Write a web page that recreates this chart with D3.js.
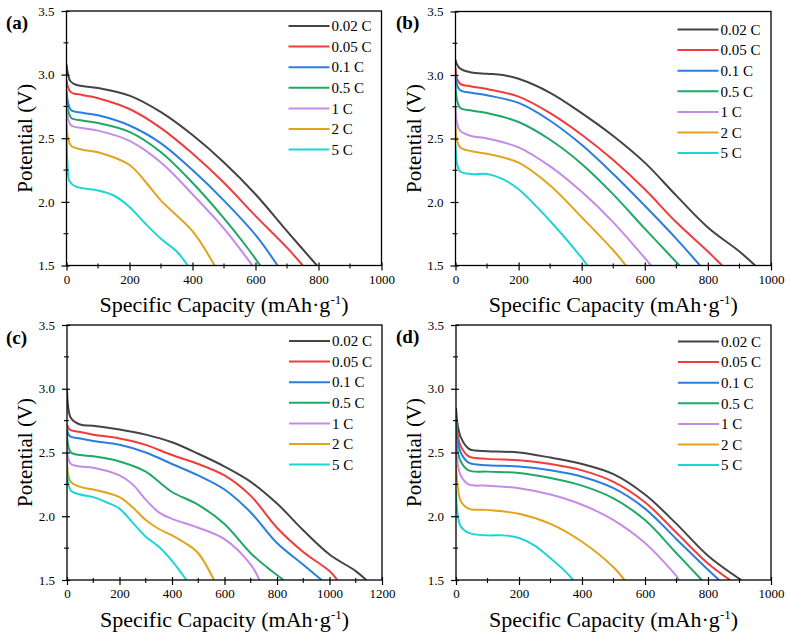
<!DOCTYPE html>
<html><head><meta charset="utf-8">
<script src="https://cdn.jsdelivr.net/npm/d3@7"></script>
<style>
body{margin:0;background:#fff}
svg{display:block}
text{font-family:"Liberation Serif","Times New Roman",Times,serif;fill:#000}
</style>
</head><body><svg id="chart" width="793" height="635"></svg>
<script>
const rates = ["0.02 C","0.05 C","0.1 C","0.5 C","1 C","2 C","5 C"];
const colors = ["#444444","#f03c3c","#2a7de1","#1fa866","#c58be8","#e3a41c","#1cd6d6"];
const yTicks = [1.5,2.0,2.5,3.0,3.5];
const xTicks1000 = [0,200,400,600,800,1000];
const xTicks1200 = [0,200,400,600,800,1000,1200];
const panelLabels = ["(a)","(b)","(c)","(d)"];

const dataA = [
 [[0,3.08],[5,3.0],[12,2.95],[30,2.92],[100,2.895],[200,2.835],[300,2.705],[400,2.525],[500,2.31],[600,2.06],[700,1.77],[795,1.5]],
 [[0,2.96],[5,2.9],[15,2.86],[50,2.84],[100,2.815],[200,2.73],[300,2.58],[400,2.38],[500,2.15],[600,1.89],[700,1.64],[750,1.5]],
 [[0,2.88],[5,2.78],[15,2.72],[50,2.70],[100,2.68],[200,2.60],[300,2.46],[400,2.25],[500,2.01],[600,1.74],[670,1.5]],
 [[0,2.82],[5,2.72],[15,2.66],[50,2.64],[100,2.62],[200,2.55],[300,2.39],[400,2.15],[500,1.87],[580,1.62],[615,1.5]],
 [[0,2.76],[5,2.65],[15,2.60],[50,2.58],[100,2.56],[200,2.48],[300,2.31],[400,2.06],[500,1.79],[590,1.5]],
 [[0,2.62],[5,2.50],[15,2.44],[50,2.41],[100,2.39],[200,2.29],[250,2.16],[300,2.01],[400,1.77],[470,1.5]],
 [[0,2.6],[3,2.3],[10,2.16],[30,2.12],[100,2.09],[150,2.05],[200,1.96],[250,1.83],[300,1.71],[350,1.61],[385,1.5]]
];
const dataB = [
 [[0,3.12],[5,3.08],[15,3.05],[50,3.02],[100,3.01],[150,3.0],[200,2.97],[300,2.86],[400,2.70],[500,2.52],[600,2.31],[700,2.05],[800,1.80],[900,1.61],[950,1.5]],
 [[0,3.06],[5,2.97],[15,2.93],[50,2.91],[100,2.89],[200,2.83],[300,2.70],[400,2.53],[500,2.33],[600,2.10],[700,1.84],[800,1.61],[845,1.5]],
 [[0,3.0],[5,2.92],[15,2.88],[50,2.86],[100,2.84],[200,2.78],[300,2.64],[400,2.45],[500,2.22],[600,1.97],[700,1.71],[775,1.5]],
 [[0,2.92],[5,2.80],[15,2.74],[50,2.72],[100,2.70],[200,2.63],[300,2.49],[400,2.30],[500,2.06],[600,1.79],[710,1.5]],
 [[0,2.75],[5,2.62],[15,2.56],[50,2.52],[100,2.50],[200,2.43],[300,2.28],[400,2.08],[500,1.84],[620,1.5]],
 [[0,2.6],[5,2.48],[15,2.43],[50,2.40],[100,2.38],[200,2.31],[300,2.13],[400,1.88],[500,1.62],[540,1.5]],
 [[0,2.45],[5,2.30],[15,2.24],[50,2.22],[100,2.22],[150,2.18],[200,2.10],[300,1.85],[400,1.56],[418,1.5]]
];
const dataC = [
 [[0,3.0],[5,2.85],[15,2.77],[50,2.72],[100,2.71],[200,2.68],[300,2.64],[400,2.58],[500,2.49],[600,2.39],[700,2.27],[800,2.10],[900,1.89],[1000,1.70],[1100,1.57],[1140,1.5]],
 [[0,2.72],[10,2.68],[50,2.66],[100,2.64],[200,2.61],[300,2.56],[400,2.48],[500,2.41],[600,2.32],[700,2.16],[800,1.91],[900,1.72],[1000,1.57],[1030,1.5]],
 [[0,2.68],[10,2.63],[50,2.61],[100,2.59],[200,2.56],[300,2.50],[400,2.41],[500,2.32],[600,2.21],[700,2.03],[800,1.79],[900,1.62],[970,1.5]],
 [[0,2.65],[5,2.55],[15,2.50],[50,2.48],[100,2.47],[200,2.43],[300,2.35],[350,2.27],[400,2.19],[500,2.09],[600,1.94],[700,1.71],[780,1.57],[825,1.5]],
 [[0,2.55],[5,2.45],[15,2.41],[50,2.39],[100,2.38],[200,2.32],[250,2.25],[300,2.13],[350,2.03],[400,1.98],[500,1.91],[600,1.82],[700,1.62],[733,1.5]],
 [[0,2.45],[5,2.32],[15,2.27],[50,2.23],[100,2.21],[200,2.15],[250,2.07],[300,1.97],[350,1.90],[400,1.85],[450,1.79],[500,1.71],[560,1.5]],
 [[0,2.4],[5,2.26],[15,2.20],[50,2.17],[100,2.15],[150,2.11],[200,2.06],[250,1.95],[300,1.84],[350,1.76],[400,1.65],[455,1.5]]
];
const dataD = [
 [[0,2.85],[5,2.72],[15,2.62],[40,2.53],[60,2.515],[100,2.51],[200,2.50],[300,2.46],[400,2.41],[500,2.33],[600,2.17],[700,1.94],[800,1.69],[905,1.5]],
 [[0,2.8],[5,2.64],[15,2.55],[40,2.47],[100,2.45],[200,2.44],[300,2.41],[400,2.36],[500,2.27],[600,2.11],[700,1.87],[800,1.63],[870,1.5]],
 [[0,2.78],[5,2.60],[15,2.50],[40,2.42],[100,2.40],[200,2.39],[300,2.36],[400,2.31],[500,2.22],[600,2.06],[700,1.82],[800,1.58],[835,1.5]],
 [[0,2.75],[5,2.52],[15,2.43],[40,2.36],[100,2.35],[200,2.34],[300,2.30],[400,2.24],[500,2.14],[600,1.97],[700,1.71],[780,1.5]],
 [[0,2.6],[5,2.42],[15,2.32],[40,2.25],[100,2.24],[200,2.22],[300,2.17],[400,2.09],[500,1.97],[600,1.79],[700,1.53],[708,1.5]],
 [[0,2.4],[5,2.25],[15,2.12],[40,2.06],[100,2.05],[200,2.02],[300,1.94],[400,1.80],[500,1.60],[535,1.5]],
 [[0,2.2],[5,2.02],[15,1.92],[40,1.87],[100,1.85],[150,1.85],[200,1.83],[250,1.77],[300,1.67],[350,1.56],[372,1.5]]
];

const svg = d3.select("#chart");
const panels = [
 {data:dataA, xTicks:xTicks1000, box:[66.5,11,381.5,265.5], lab:[6,29], legTop:15},
 {data:dataB, xTicks:xTicks1000, box:[455.5,11.5,771,265.5], lab:[396,29], legTop:18},
 {data:dataC, xTicks:xTicks1200, box:[67,325,382,580], lab:[6,344], legTop:16},
 {data:dataD, xTicks:xTicks1000, box:[456,325,771,580], lab:[396,343], legTop:16.5}
];
const serif = "Liberation Serif, Times New Roman, serif";

panels.forEach((p, pi) => {
  const [l,t,r,b] = p.box;
  const xMax = p.xTicks[p.xTicks.length-1];
  const x = d3.scaleLinear().domain([0,xMax]).range([l,r]);
  const y = d3.scaleLinear().domain([1.5,3.5]).range([b,t]);
  const g = svg.append("g");

  const clipId = "clip"+pi;
  g.append("clipPath").attr("id",clipId).append("rect")
    .attr("x",l).attr("y",t).attr("width",r-l).attr("height",b-t);

  const line = d3.line().x(d=>x(d[0])).y(d=>y(d[1])).curve(d3.curveCatmullRom.alpha(0.5));
  g.append("g").attr("clip-path",`url(#${clipId})`)
    .selectAll("path").data(p.data).join("path")
    .attr("d",line).attr("fill","none")
    .attr("stroke",(d,i)=>colors[i]).attr("stroke-width",2)
    .attr("stroke-linejoin","round");

  const xMinor = d3.range(0,xMax,100).filter(v=>v%200!==0);
  const yMinor = [1.75,2.25,2.75,3.25];

  const xAxis = d3.axisBottom(x).tickValues(p.xTicks).tickFormat(d3.format("d")).tickSizeInner(5).tickSizeOuter(0).tickPadding(4);
  const gx = g.append("g").attr("transform",`translate(0,${b})`).call(xAxis);
  gx.attr("font-family",serif);
  gx.select(".domain").remove();
  gx.selectAll(".tick line").attr("y1",-3).attr("stroke","#000").attr("stroke-width",1.2);
  gx.selectAll(".tick text").attr("font-size",13).attr("fill","#000");
  g.append("g").selectAll("line").data(xMinor).join("line")
    .attr("x1",d=>x(d)).attr("x2",d=>x(d)).attr("y1",b-2).attr("y2",b+3)
    .attr("stroke","#000").attr("stroke-width",1.1);

  const yAxis = d3.axisLeft(y).tickValues(yTicks).tickFormat(d3.format(".1f")).tickSizeInner(5).tickSizeOuter(0).tickPadding(7);
  const gy = g.append("g").attr("transform",`translate(${l},0)`).call(yAxis);
  gy.attr("font-family",serif);
  gy.select(".domain").remove();
  gy.selectAll(".tick line").attr("x1",3).attr("stroke","#000").attr("stroke-width",1.2);
  gy.selectAll(".tick text").attr("font-size",13).attr("fill","#000");
  g.append("g").selectAll("line").data(yMinor).join("line")
    .attr("x1",l-3).attr("x2",l+2).attr("y1",d=>y(d)).attr("y2",d=>y(d))
    .attr("stroke","#000").attr("stroke-width",1.1);

  g.append("rect").attr("x",l).attr("y",t).attr("width",r-l).attr("height",b-t)
    .attr("fill","none").attr("stroke","#000").attr("stroke-width",1.3);

  const xt = g.append("text").attr("x",(l+r)/2).attr("y",b+46.5)
    .attr("text-anchor","middle").attr("font-size",22);
  xt.append("tspan").text("Specific Capacity (mAh·g");
  xt.append("tspan").attr("font-size",13).attr("dy",-8).text("-1");
  xt.append("tspan").attr("dy",8).text(")");

  g.append("text").attr("transform",`translate(${l-35},${(t+b)/2}) rotate(-90)`)
    .attr("text-anchor","middle").attr("font-size",21).text("Potential (V)");

  g.append("text").attr("x",p.lab[0]).attr("y",p.lab[1])
    .attr("font-size",19).attr("font-weight","bold").text(panelLabels[pi]);

  const lx = l+222, ly = t+p.legTop;
  const lg = g.append("g").selectAll("g").data(rates).join("g")
    .attr("transform",(d,i)=>`translate(${lx},${ly+i*20.6})`);
  lg.append("line").attr("x1",0).attr("x2",41).attr("y1",0).attr("y2",0)
    .attr("stroke",(d,i)=>colors[i]).attr("stroke-width",2);
  lg.append("text").attr("x",43).attr("y",0).attr("dy","0.35em")
    .attr("font-size",15).text(d=>d);
});
</script>
</body></html>
